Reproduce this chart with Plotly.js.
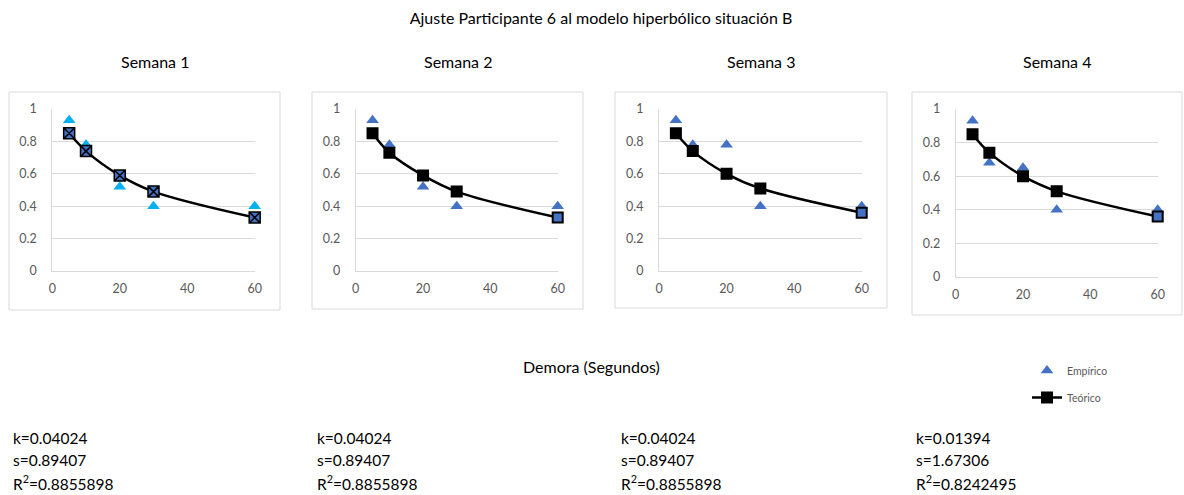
<!DOCTYPE html>
<html>
<head>
<meta charset="utf-8">
<script src="https://cdn.plot.ly/plotly-3.0.1.min.js"></script>
<style>
  html, body { margin: 0; padding: 0; background: #ffffff; }
  #chart { width: 1184px; height: 495px; }
</style>
</head>
<body>
<div id="chart"></div>
<script>
// Delays (seconds) shared by every week
const demoras = [5, 10, 20, 30, 60];

// Observed (empirical) subjective values per week
const empirico1 = [0.93, 0.78, 0.52, 0.40, 0.40];
const empirico2 = [0.93, 0.78, 0.52, 0.40, 0.40];
const empirico3 = [0.93, 0.78, 0.78, 0.40, 0.40];
const empirico4 = [0.93, 0.68, 0.65, 0.40, 0.40];

// Fitted (theoretical) hyperbolic values per week
const teorico1 = [0.85, 0.74, 0.59, 0.49, 0.33];
const teorico2 = [0.85, 0.73, 0.59, 0.49, 0.33];
const teorico3 = [0.85, 0.74, 0.60, 0.51, 0.36];
const teorico4 = [0.85, 0.74, 0.60, 0.51, 0.36];

// Fit parameters per week
const semanas = ['Semana 1', 'Semana 2', 'Semana 3', 'Semana 4'];
const valoresK = ['0.04024', '0.04024', '0.04024', '0.01394'];
const valoresS = ['0.89407', '0.89407', '0.89407', '1.67306'];
const valoresR2 = ['0.8855898', '0.8855898', '0.8855898', '0.8242495'];

const xTicks = [0, 20, 40, 60];
const yTicks = [0, 0.2, 0.4, 0.6, 0.8, 1];

const W = 1184, H = 495;
const FONT = 'Lato, "Open Sans", sans-serif';
const px = v => v / W;
const py = v => 1 - v / H;

// Pixel layout of each small chart: plot area and outer frame
const paneles = [
  { x0: 52.3, x1: 254.7, yb: 271, yt: 109, frame: [9, 92, 280, 310], tx: 11 },
  { x0: 355.7, x1: 557.7, yb: 271, yt: 109, frame: [312, 92, 583, 309], tx: 315 },
  { x0: 659, x1: 861.7, yb: 271, yt: 109, frame: [615, 92, 887, 308], tx: 619 },
  { x0: 955.7, x1: 1157.7, yb: 277, yt: 109, frame: [912, 92, 1182, 315], tx: 914 }
];

const empiricos = [empirico1, empirico2, empirico3, empirico4];
const teoricos = [teorico1, teorico2, teorico3, teorico4];

const data = [];
const layout = {
  width: W, height: H,
  margin: { l: 0, r: 0, t: 0, b: 0 },
  paper_bgcolor: '#ffffff',
  plot_bgcolor: 'rgba(0,0,0,0)',
  font: { family: FONT, color: '#595959', size: 12 },
  title: {
    text: 'Ajuste Participante 6 al modelo hiperbólico situación B',
    x: px(601), xanchor: 'center', xref: 'paper',
    y: py(18), yanchor: 'middle', yref: 'paper',
    font: { family: FONT, size: 16, color: '#000000' }
  },
  showlegend: true,
  legend: {
    x: px(1027), y: py(356), xanchor: 'left', yanchor: 'top',
    xref: 'paper', yref: 'paper',
    bgcolor: 'rgba(0,0,0,0)',
    font: { family: FONT, size: 10.5, color: '#595959' },
    itemwidth: 30,
    traceorder: 'grouped',
    tracegroupgap: 8
  },
  shapes: [],
  annotations: []
};

paneles.forEach((p, i) => {
  const n = i === 0 ? '' : String(i + 1);
  const xa = 'x' + n, ya = 'y' + n;
  const esPrimera = i === 0;
  const colorTri = esPrimera ? '#00B0F0' : '#4472C4';

  data.push({
    type: 'scatter', mode: 'markers',
    x: demoras, y: empiricos[i],
    xaxis: xa, yaxis: ya,
    name: 'Empírico',
    legendgroup: 'emp',
    showlegend: i === 1,
    cliponaxis: false,
    marker: { symbol: 'triangle-up', size: 11, color: colorTri }
  });

  const ultimo = demoras.length - 1;
  const relleno = demoras.map((d, j) => esPrimera ? '#4472C4' : (j === ultimo ? '#4472C4' : '#000000'));
  data.push({
    type: 'scatter', mode: 'lines+markers',
    x: demoras, y: teoricos[i],
    xaxis: xa, yaxis: ya,
    name: 'Teórico',
    legendgroup: 'teo',
    showlegend: i === 1,
    cliponaxis: false,
    line: { color: '#000000', width: 2.5, shape: 'spline', smoothing: 1 },
    marker: esPrimera
      ? { symbol: 'square-x', size: 11, color: '#4472C4', line: { color: '#000000', width: 1.5 } }
      : { symbol: 'square', size: 10, color: relleno, line: { color: '#000000', width: 2 } }
  });

  layout['xaxis' + n] = {
    domain: [px(p.x0), px(p.x1)],
    anchor: ya,
    range: [0, 60],
    tickvals: xTicks,
    showgrid: false, zeroline: false,
    showline: true, linecolor: '#D9D9D9', linewidth: 1,
    ticks: '', ticklabelstandoff: 6,
    tickfont: { family: FONT, size: 12.5, color: '#595959' },
    fixedrange: true
  };
  layout['yaxis' + n] = {
    domain: [py(p.yb), py(p.yt)],
    anchor: xa,
    range: [0, 1],
    tickvals: yTicks,
    showgrid: true, gridcolor: '#D9D9D9', gridwidth: 1,
    zeroline: false,
    showline: true, linecolor: '#D9D9D9', linewidth: 1,
    ticks: '', ticklabelstandoff: 12,
    tickfont: { family: FONT, size: 12.5, color: '#595959' },
    fixedrange: true
  };

  // Outer frame of the small chart
  const f = p.frame;
  layout.shapes.push({
    type: 'rect', xref: 'paper', yref: 'paper',
    x0: px(f[0]), x1: px(f[2]), y0: py(f[3]), y1: py(f[1]),
    line: { color: '#D9D9D9', width: 1 }, fillcolor: 'rgba(0,0,0,0)', layer: 'below'
  });

  // Week heading
  layout.annotations.push({
    xref: 'paper', yref: 'paper',
    x: px((f[0] + f[2]) / 2 + 10), y: py(61),
    xanchor: 'center', yanchor: 'middle',
    text: semanas[i], showarrow: false,
    font: { family: FONT, size: 16, color: '#000000' }
  });

  // Fit parameters underneath
  const lineas = ['k=' + valoresK[i], 's=' + valoresS[i], 'R<sup>2</sup>=' + valoresR2[i]];
  [438, 460, 482].forEach((yy, j) => {
    layout.annotations.push({
      xref: 'paper', yref: 'paper',
      x: px(p.tx), y: py(yy),
      xanchor: 'left', yanchor: 'middle',
      text: lineas[j], showarrow: false,
      font: { family: FONT, size: 15.5, color: '#000000' }
    });
  });
});

// Shared axis caption
layout.annotations.push({
  xref: 'paper', yref: 'paper',
  x: px(591), y: py(366),
  xanchor: 'center', yanchor: 'middle',
  text: 'Demora (Segundos)', showarrow: false,
  font: { family: FONT, size: 16, color: '#000000' }
});

Plotly.newPlot('chart', data, layout, { displayModeBar: false, staticPlot: true });
</script>
</body>
</html>
